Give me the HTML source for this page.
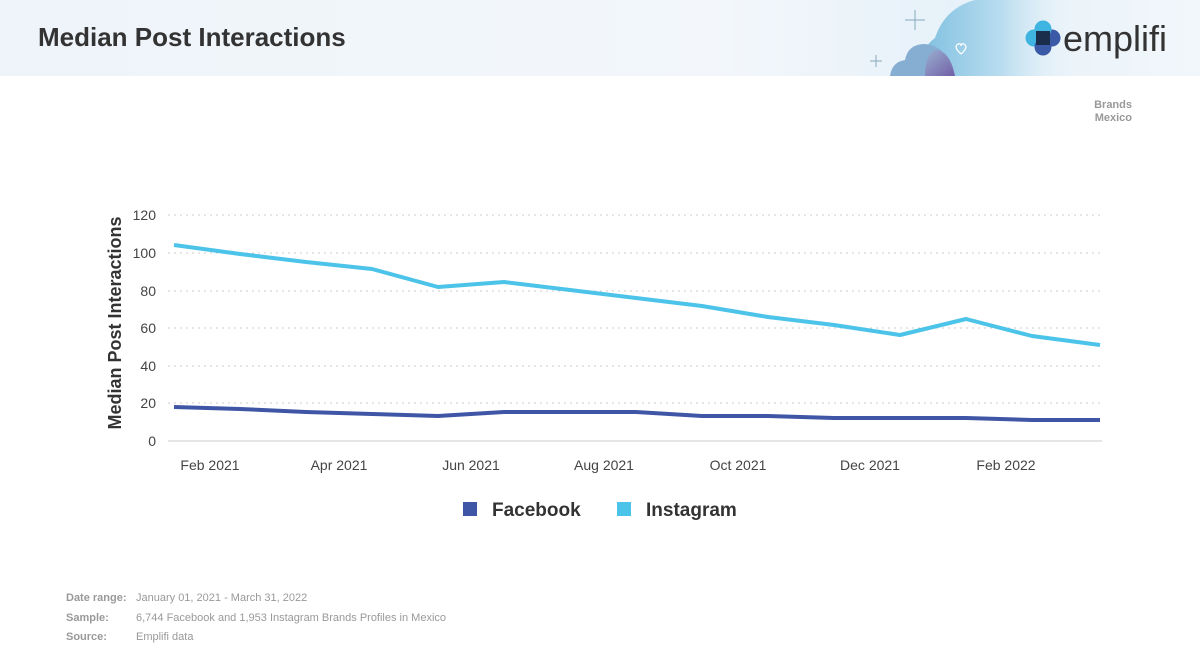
<!DOCTYPE html>
<html><head><meta charset="utf-8"><style>
body{margin:0;width:1200px;height:672px;background:#fff;font-family:"Liberation Sans",sans-serif;overflow:hidden;position:relative}
.hdr{position:absolute;left:0;top:0;width:1200px;height:76px;background:linear-gradient(90deg,#eef4fa 0%,#f3f7fb 60%,#e6f1f9 80%,#f2f7fb 100%)}
.t{position:absolute;left:38px;top:22px;font-size:26px;font-weight:bold;color:#333}
.ft{position:absolute;font-size:11px;color:#999}
</style></head><body>
<div class="hdr"></div>
<div class="t">Median Post Interactions</div>
<svg width="1200" height="672" style="position:absolute;left:0;top:0">
<defs>
<linearGradient id="cg" x1="0" x2="1" y1="0" y2="0"><stop offset="0" stop-color="#7fc0e0"/><stop offset="0.5" stop-color="#b8dcef"/><stop offset="1" stop-color="#eef5fa" stop-opacity="0"/></linearGradient>
<linearGradient id="cg2" x1="0" x2="1" y1="0" y2="1"><stop offset="0" stop-color="#9fb0d0"/><stop offset="1" stop-color="#6c4a9a"/></linearGradient>
</defs>
<path d="M922 76 Q918 50 935 38 Q945 8 975 0 L1080 0 L1080 76Z" fill="url(#cg)"/>
<path d="M890 76 Q892 62 905 60 Q908 44 925 44 Q945 46 950 66 L955 76Z" fill="#86aed3"/>
<path d="M925 76 Q925 55 935 50 Q950 50 955 76Z" fill="url(#cg2)" opacity="0.8"/>
<path d="M961 54 q-8 -7 -3 -10 q3 -1 3 2 q0 -3 3 -2 q5 3 -3 10" fill="none" stroke="#fff" stroke-width="1.3"/>
<path d="M915 10v20M905 20h20M876 55v12M870 61h12" stroke="#8ab" stroke-width="1"/>
<circle cx="1034" cy="38" r="8.5" fill="#40b4e0"/><circle cx="1052" cy="38" r="8.5" fill="#3a5aa8"/><circle cx="1043" cy="29" r="8.5" fill="#40b4e0"/><circle cx="1043" cy="47" r="8.5" fill="#3a5aa8"/><rect x="1036" y="31" width="14" height="14" fill="#1a2d4a"/>
<text x="1063" y="51" font-size="36" fill="#333" font-family="Liberation Sans">emplifi</text>
<text x="1132" y="108" font-size="11" fill="#999" text-anchor="end" font-weight="bold">Brands</text>
<text x="1132" y="121" font-size="11" fill="#999" text-anchor="end" font-weight="bold">Mexico</text>
<g stroke="#ccc" stroke-dasharray="2,4" stroke-width="1">
<line x1="168" x2="1102" y1="215" y2="215"/><line x1="168" x2="1102" y1="253" y2="253"/><line x1="168" x2="1102" y1="291" y2="291"/><line x1="168" x2="1102" y1="328" y2="328"/><line x1="168" x2="1102" y1="366" y2="366"/><line x1="168" x2="1102" y1="403" y2="403"/></g>
<line x1="168" x2="1102" y1="441" y2="441" stroke="#ccc"/>
<g font-size="14" fill="#444" text-anchor="end">
<text x="156" y="220">120</text><text x="156" y="258">100</text><text x="156" y="296">80</text><text x="156" y="333">60</text><text x="156" y="371">40</text><text x="156" y="408">20</text><text x="156" y="446">0</text></g>
<text transform="translate(121,323) rotate(-90)" font-size="18" font-weight="bold" fill="#333" text-anchor="middle">Median Post Interactions</text>
<g font-size="14" fill="#444" text-anchor="middle">
<text x="210" y="470">Feb 2021</text><text x="339" y="470">Apr 2021</text><text x="471" y="470">Jun 2021</text><text x="604" y="470">Aug 2021</text><text x="738" y="470">Oct 2021</text><text x="870" y="470">Dec 2021</text><text x="1006" y="470">Feb 2022</text></g>
<polyline fill="none" stroke="#4cc3e8" stroke-width="4" stroke-linejoin="round" points="174,245 240,254 306,262 372,269 438,287 504,282 570,290 636,298 702,306 768,317 834,325 900,335 966,319 1032,336 1100,345"/>
<polyline fill="none" stroke="#3f56a6" stroke-width="4" stroke-linejoin="round" points="174,407 240,409 306,412 372,414 438,416 504,412 570,412 636,412 702,416 768,416 834,418 900,418 966,418 1032,420 1100,420"/>
<rect x="463" y="502" width="14" height="14" fill="#3f56a6"/><text x="492" y="516" font-size="19" font-weight="bold" fill="#333">Facebook</text>
<rect x="617" y="502" width="14" height="14" fill="#4cc3e8"/><text x="646" y="516" font-size="19" font-weight="bold" fill="#333">Instagram</text>
</svg>
<div class="ft" style="left:66px;top:592px;font-weight:bold">Date range:</div><div class="ft" style="left:136px;top:592px">January 01, 2021 - March 31, 2022</div>
<div class="ft" style="left:66px;top:612px;font-weight:bold">Sample:</div><div class="ft" style="left:136px;top:612px">6,744 Facebook and 1,953 Instagram Brands Profiles in Mexico</div>
<div class="ft" style="left:66px;top:631px;font-weight:bold">Source:</div><div class="ft" style="left:136px;top:631px">Emplifi data</div>
</body></html>
